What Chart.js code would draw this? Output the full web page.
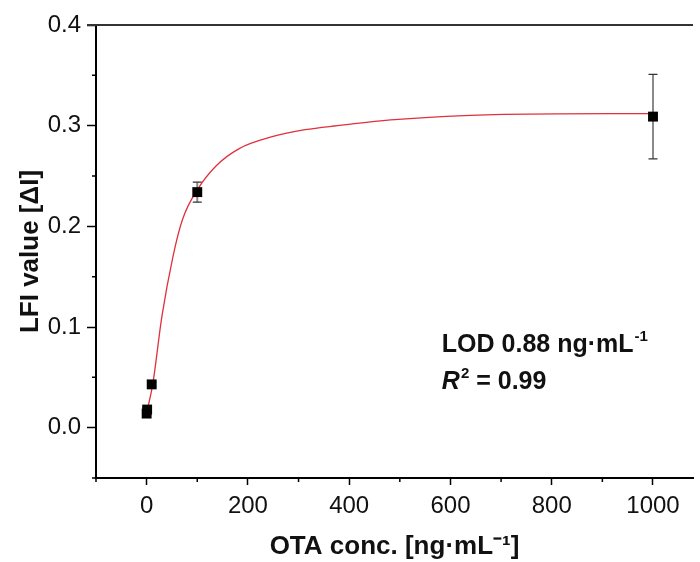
<!DOCTYPE html>
<html>
<head>
<meta charset="utf-8">
<script src="https://cdn.jsdelivr.net/npm/chart.js@4"></script>
<style>
  html, body { margin: 0; padding: 0; background: #fff; }
  #chart { display: block; }
</style>
</head>
<body>
<canvas id="chart" width="700" height="562"></canvas>
<script>
// measured points (OTA concentration vs LFI signal)
const concentrations = [0, 1, 10, 100, 1000];
const lfiValues = [0.014, 0.018, 0.043, 0.234, 0.309];
const lfiErrors = [0.002, 0.002, 0.002, 0.010, 0.042];

// fitted curve
const fitX = [0, 12, 30, 52, 71, 101, 137, 182, 248, 313, 377, 490, 686, 1000];
const fitY = [0.015, 0.043, 0.110, 0.170, 0.207, 0.237, 0.260, 0.277, 0.289, 0.296, 0.300, 0.306, 0.311, 0.312];

const xLabels = [0, 200, 400, 600, 800, 1000];
const yLabels = [0.0, 0.1, 0.2, 0.3, 0.4];

const lodText = 'LOD 0.88 ng\u00B7mL';
const r2Text = ' = 0.99';
const textPos = [583, 0.075, 0.0385];

const FONT = "'Liberation Sans', Arial, sans-serif";

const isXLabel = v => xLabels.some(l => Math.abs(l - v) < 1e-6);
const isYLabel = v => yLabels.some(l => Math.abs(l - v) < 1e-6);

const errorBars = {
    id: 'errorBars',
    beforeDatasetsDraw(chart) {
        const { ctx, scales: { x, y } } = chart;
        ctx.save();
        concentrations.forEach((c, i) => {
            const px = x.getPixelForValue(c);
            const top = y.getPixelForValue(lfiValues[i] + lfiErrors[i]);
            const bot = y.getPixelForValue(lfiValues[i] - lfiErrors[i]);
            ctx.strokeStyle = '#8a8a8a';
            ctx.lineWidth = 2;
            ctx.beginPath();
            ctx.moveTo(px, top);
            ctx.lineTo(px, bot);
            ctx.stroke();
            ctx.strokeStyle = '#333';
            ctx.lineWidth = 1.2;
            ctx.beginPath();
            ctx.moveTo(px - 4.5, top);
            ctx.lineTo(px + 4.5, top);
            ctx.moveTo(px - 4.5, bot);
            ctx.lineTo(px + 4.5, bot);
            ctx.stroke();
        });
        ctx.restore();
    },
};

const frameAndText = {
    id: 'frameAndText',
    afterDraw(chart) {
        const { ctx, chartArea, scales: { x, y } } = chart;
        ctx.save();
        // top frame line
        ctx.strokeStyle = '#333';
        ctx.lineWidth = 2;
        ctx.beginPath();
        ctx.moveTo(chartArea.left - 9, chartArea.top);
        ctx.lineTo(chartArea.right, chartArea.top);
        ctx.stroke();

        // minor ticks
        ctx.strokeStyle = '#000';
        ctx.lineWidth = 1.5;
        ctx.beginPath();
        y.ticks.forEach(t => {
            if (isYLabel(t.value)) return;
            const py = y.getPixelForValue(t.value);
            ctx.moveTo(chartArea.left - 4, py);
            ctx.lineTo(chartArea.left, py);
        });
        x.ticks.forEach(t => {
            if (isXLabel(t.value)) return;
            const px = x.getPixelForValue(t.value);
            ctx.moveTo(px, chartArea.bottom);
            ctx.lineTo(px, chartArea.bottom + 4);
        });
        ctx.stroke();

        // annotation
        ctx.fillStyle = '#111';
        ctx.textBaseline = 'alphabetic';
        ctx.textAlign = 'left';
        const tx = x.getPixelForValue(textPos[0]);
        const ty1 = y.getPixelForValue(textPos[1]);
        const ty2 = y.getPixelForValue(textPos[2]);

        ctx.font = 'bold 25px ' + FONT;
        ctx.fillText(lodText, tx, ty1);
        let w = ctx.measureText(lodText).width;
        ctx.font = 'bold 15px ' + FONT;
        ctx.fillText('-1', tx + w + 1, ty1 - 11);

        ctx.font = 'italic bold 25px ' + FONT;
        ctx.fillText('R', tx, ty2);
        w = ctx.measureText('R').width;
        ctx.font = 'bold 15px ' + FONT;
        ctx.fillText('2', tx + w + 1, ty2 - 11);
        const w2 = ctx.measureText('2').width;
        ctx.font = 'bold 25px ' + FONT;
        ctx.fillText(r2Text, tx + w + w2 + 1, ty2);
        ctx.restore();
    },
};

new Chart(document.getElementById('chart'), {
    type: 'scatter',
    data: {
        datasets: [
            {
                label: 'fit',
                data: fitX.map((v, i) => ({ x: v, y: fitY[i] })),
                showLine: true,
                borderColor: '#e0303c',
                borderWidth: 1.3,
                pointRadius: 0,
                cubicInterpolationMode: 'monotone',
                order: 2,
            },
            {
                label: 'LFI',
                data: concentrations.map((v, i) => ({ x: v, y: lfiValues[i] })),
                pointStyle: 'rect',
                pointRadius: 7,
                pointHoverRadius: 7,
                borderWidth: 0,
                backgroundColor: '#000',
                borderColor: '#000',
                order: 1,
            },
        ],
    },
    options: {
        responsive: false,
        animation: false,
        events: [],
        layout: {
            padding: { top: 25, right: 0, left: 0, bottom: 0 },
        },
        plugins: {
            legend: { display: false },
            tooltip: { enabled: false },
        },
        scales: {
            x: {
                type: 'linear',
                min: -100,
                max: 1079,
                afterFit: s => { s.height = 84; },
                border: { display: true, color: '#000', width: 2 },
                grid: {
                    drawOnChartArea: false,
                    drawTicks: true,
                    tickLength: 7,
                    tickWidth: 1.5,
                    tickColor: c => (isXLabel(c.tick.value) ? '#000' : 'rgba(0,0,0,0)'),
                },
                ticks: {
                    stepSize: 100,
                    includeBounds: false,
                    autoSkip: false,
                    maxRotation: 0,
                    padding: 7,
                    color: '#111',
                    font: { family: FONT, size: 24 },
                    callback: v => (isXLabel(v) ? String(v) : ''),
                },
                title: {
                    display: true,
                    text: 'OTA conc. [ng\u00B7mL\u207B\u00B9]',
                    color: '#111',
                    font: { family: FONT, size: 26, weight: 'bold' },
                    padding: { top: 0, bottom: 0 },
                },
            },
            y: {
                type: 'linear',
                min: -0.05,
                max: 0.4,
                afterFit: s => { s.width = 96; },
                border: { display: true, color: '#000', width: 2 },
                grid: {
                    drawOnChartArea: false,
                    drawTicks: true,
                    tickLength: 9,
                    tickWidth: 1.5,
                    tickColor: c => (isYLabel(c.tick.value) ? '#000' : 'rgba(0,0,0,0)'),
                },
                ticks: {
                    stepSize: 0.05,
                    autoSkip: false,
                    padding: 6,
                    color: '#111',
                    font: { family: FONT, size: 24 },
                    callback: v => (isYLabel(v) ? v.toFixed(1) : ''),
                },
                title: {
                    display: true,
                    text: 'LFI value [\u0394I]',
                    color: '#111',
                    font: { family: FONT, size: 26, weight: 'bold' },
                    padding: { top: 15, bottom: 0 },
                },
            },
        },
    },
    plugins: [errorBars, frameAndText],
});
</script>
</body>
</html>
